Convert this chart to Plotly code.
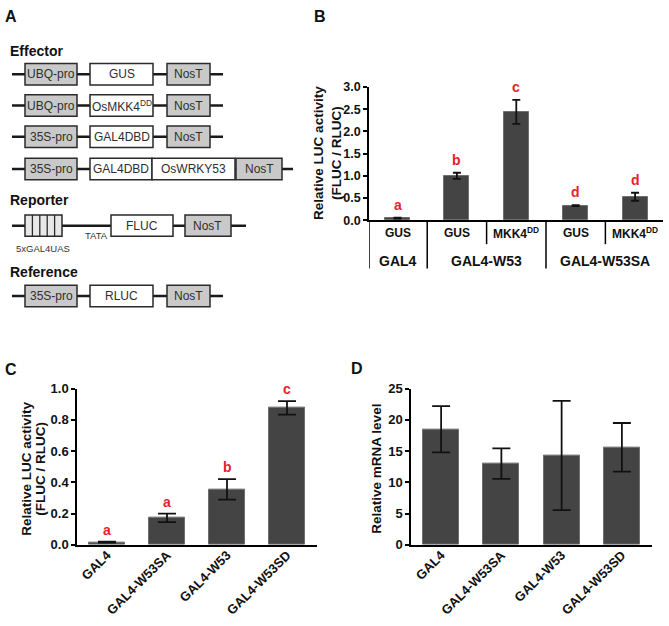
import plotly.graph_objects as go

W, H = 669, 626


def px(x):
    return x / W


def py(y):
    return 1 - y / H


FONT = "Arial, Liberation Sans, sans-serif"
BAR_COLOR = "#444444"
BAR_EDGE = "#6e6e6e"
RED = "#e3232b"

# ---------------- Panel B data ----------------
b_sub_labels = ["GUS", "GUS", "MKK4<sup>DD</sup>", "GUS", "MKK4<sup>DD</sup>"]
b_group_labels = ["GAL4", "GAL4-W53", "GAL4-W53SA"]
b_group_sizes = [1, 2, 2]
b_values = [0.05, 1.00, 2.44, 0.33, 0.53]
b_errors = [0.01, 0.07, 0.27, 0.01, 0.09]
b_letters = ["a", "b", "c", "d", "d"]
b_ticks = [0.0, 0.5, 1.0, 1.5, 2.0, 2.5, 3.0]

# ---------------- Panel C data ----------------
c_categories = ["GAL4", "GAL4-W53SA", "GAL4-W53", "GAL4-W53SD"]
c_values = [0.017, 0.172, 0.355, 0.877]
c_errors = [0.003, 0.027, 0.066, 0.043]
c_letters = ["a", "a", "b", "c"]
c_ticks = [0.0, 0.2, 0.4, 0.6, 0.8, 1.0]

# ---------------- Panel D data ----------------
d_categories = ["GAL4", "GAL4-W53SA", "GAL4-W53", "GAL4-W53SD"]
d_values = [18.5, 13.0, 14.3, 15.6]
d_errors = [3.7, 2.45, 8.75, 3.9]
d_ticks = [0, 5, 10, 15, 20, 25]

# ---------------- Panel A labels ----------------
effector_constructs = [
    ["UBQ-pro", "GUS", "NosT"],
    ["UBQ-pro", "OsMKK4<sup>DD</sup>", "NosT"],
    ["35S-pro", "GAL4DBD", "NosT"],
    ["35S-pro", "GAL4DBD", "OsWRKY53", "NosT"],
]
reporter_parts = ["5xGAL4UAS", "TATA", "FLUC", "NosT"]
reference_parts = ["35S-pro", "RLUC", "NosT"]

fig = go.Figure()

err_style = dict(type="data", visible=True, color="#111111", thickness=1.8)

fig.add_trace(go.Bar(
    x=list(range(len(b_values))), y=b_values,
    error_y=dict(array=b_errors, width=4, **err_style),
    width=0.42, marker=dict(color=BAR_COLOR, line=dict(color=BAR_EDGE, width=1)),
    xaxis="x", yaxis="y", showlegend=False, hoverinfo="skip"))

fig.add_trace(go.Bar(
    x=c_categories, y=c_values,
    error_y=dict(array=c_errors, width=9, **err_style),
    width=0.6, marker=dict(color=BAR_COLOR, line=dict(color=BAR_EDGE, width=1)),
    xaxis="x2", yaxis="y2", showlegend=False, hoverinfo="skip"))

fig.add_trace(go.Bar(
    x=d_categories, y=d_values,
    error_y=dict(array=d_errors, width=9, **err_style),
    width=0.6, marker=dict(color=BAR_COLOR, line=dict(color=BAR_EDGE, width=1)),
    xaxis="x3", yaxis="y3", showlegend=False, hoverinfo="skip"))

shapes = []
annotations = []


def text(x, y, s, size=11, bold=False, color="#222222", xanchor="center", yanchor="middle",
         xref="paper", yref="paper", angle=0):
    annotations.append(dict(
        x=px(x) if xref == "paper" else x, y=py(y) if yref == "paper" else y,
        xref=xref, yref=yref, text=s, showarrow=False, textangle=angle,
        xanchor=xanchor, yanchor=yanchor,
        font=dict(family=FONT, size=size, color=color, weight="bold" if bold else "normal")))


def hline(x0, x1, y, width=2.5, color="#1a1a1a"):
    shapes.append(dict(type="line", xref="paper", yref="paper",
                       x0=px(x0), x1=px(x1), y0=py(y), y1=py(y),
                       line=dict(color=color, width=width)))


def rect(x0, x1, yc, fill, h=22):
    shapes.append(dict(type="rect", xref="paper", yref="paper",
                       x0=px(x0), x1=px(x1), y0=py(yc + h / 2), y1=py(yc - h / 2),
                       fillcolor=fill, line=dict(color="#2a2a2a", width=1.5)))


def box(x0, x1, yc, fill, label):
    rect(x0, x1, yc, fill)
    text((x0 + x1) / 2, yc, label, size=12, color="#2e2e2e")


GRAY = "#c9c9c9"
WHITE = "#ffffff"

# ----- Panel A -----
text(3, 10, "A", size=16, bold=True, xanchor="left", color="#111")
text(8, 45, "Effector", size=14, bold=True, xanchor="left", color="#111")
eff_rows_y = [69, 101, 133, 166]
for yc, parts in zip(eff_rows_y, effector_constructs):
    if len(parts) == 3:
        hline(12, 223, yc)
        box(25, 77, yc, GRAY, parts[0])
        box(90, 153, yc, WHITE, parts[1])
        box(167, 210, yc, GRAY, parts[2])
    else:
        hline(12, 293, yc)
        box(25, 77, yc, GRAY, parts[0])
        box(90, 152, yc, WHITE, parts[1])
        box(152, 235, yc, WHITE, parts[2])
        box(236, 282, yc, GRAY, parts[3])

text(8, 198, "Reporter", size=14, bold=True, xanchor="left", color="#111")
ry = 224
hline(12, 246, ry)
rect(25, 62, ry, "#e8e8e8")
for k in range(1, 5):
    xx = 25 + k * (62 - 25) / 5
    shapes.append(dict(type="line", xref="paper", yref="paper", x0=px(xx), x1=px(xx),
                       y0=py(ry - 11), y1=py(ry + 11), line=dict(color="#2a2a2a", width=1.3)))
text(43, 247, reporter_parts[0], size=9.5, color="#333")
text(96, 234, reporter_parts[1], size=9.5, color="#333")
box(111, 173, ry, WHITE, reporter_parts[2])
box(185, 231, ry, GRAY, reporter_parts[3])

text(8, 272, "Reference", size=14, bold=True, xanchor="left", color="#111")
fy = 296
hline(12, 223, fy)
box(25, 77, fy, GRAY, reference_parts[0])
box(90, 153, fy, WHITE, reference_parts[1])
box(167, 210, fy, GRAY, reference_parts[2])

# ----- Panel B -----
text(312, 10, "B", size=16, bold=True, xanchor="left", color="#111")
text(318.5, 150, "Relative LUC activity", size=13.5, bold=True, angle=-90, color="#111")
text(336.5, 150, "(FLUC / RLUC)", size=13.5, bold=True, angle=-90, color="#111")

B_LEFT = -0.48
# table below panel B
shapes.append(dict(type="line", xref="x", yref="paper", x0=B_LEFT, x1=B_LEFT,
                   y0=py(218.5), y1=py(268), line=dict(color="black", width=1.5)))
start = 0
for gi, (gl, gs) in enumerate(zip(b_group_labels, b_group_sizes)):
    center = start + (gs - 1) / 2
    text(center, 260, gl, size=14, bold=True, color="#111", xref="x")
    end = start + gs - 1
    if gi < len(b_group_labels) - 1:
        shapes.append(dict(type="line", xref="x", yref="paper", x0=end + 0.5, x1=end + 0.5,
                           y0=py(218.5), y1=py(268), line=dict(color="black", width=1.5)))
    for k in range(start, end):
        shapes.append(dict(type="line", xref="x", yref="paper", x0=k + 0.5, x1=k + 0.5,
                           y0=py(218.5), y1=py(243), line=dict(color="black", width=1.5)))
    start += gs
for i, s in enumerate(b_sub_labels):
    text(i, 232, s, size=12, bold=True, color="#111", xref="x")

for i, (v, e, l) in enumerate(zip(b_values, b_errors, b_letters)):
    annotations.append(dict(x=i, y=v + e, xref="x", yref="y", text=l, showarrow=False,
                            yshift=13, yanchor="middle",
                            font=dict(family=FONT, size=14, color=RED, weight="bold")))

# ----- Panel C -----
text(3, 371, "C", size=16, bold=True, xanchor="left", color="#111")
text(27, 473, "Relative LUC activity", size=13.5, bold=True, angle=-90, color="#111")
text(41, 473, "(FLUC / RLUC)", size=13.5, bold=True, angle=-90, color="#111")
for cat, v, e, l in zip(c_categories, c_values, c_errors, c_letters):
    annotations.append(dict(x=cat, y=v + e, xref="x2", yref="y2", text=l, showarrow=False,
                            yshift=12, yanchor="middle",
                            font=dict(family=FONT, size=14, color=RED, weight="bold")))

# ----- Panel D -----
text(349, 370, "D", size=16, bold=True, xanchor="left", color="#111")
text(377, 473, "Relative mRNA level", size=13.5, bold=True, angle=-90, color="#111")

axis_common = dict(showgrid=False, zeroline=False, showline=True, linecolor="black", linewidth=1.5,
                   tickfont=dict(family=FONT, size=12.5, color="#111", weight="bold"))
yaxis_common = dict(axis_common, ticks="outside", ticklen=4, tickwidth=1.5, tickcolor="black")
cat_font = dict(family=FONT, size=13, color="#111", weight="bold")

fig.update_layout(
    width=W, height=H,
    margin=dict(l=0, r=0, t=0, b=0),
    paper_bgcolor="white", plot_bgcolor="rgba(0,0,0,0)",
    bargap=0,
    xaxis=dict(axis_common, domain=[px(369), px(663)], range=[B_LEFT, 4.47],
               showticklabels=False, ticks="", anchor="y"),
    yaxis=dict(yaxis_common, domain=[py(218.5), py(82)], range=[0, 3], tickvals=b_ticks,
               tickformat=".1f", anchor="x"),
    xaxis2=dict(axis_common, domain=[px(77), px(317)], range=[-0.5, 3.5], tickangle=-45,
                ticks="", anchor="y2", type="category", ticklabelstandoff=-4, tickfont=cat_font),
    yaxis2=dict(yaxis_common, domain=[py(551), py(391)], range=[0, 1], tickvals=c_ticks,
                tickformat=".1f", anchor="x2", tickfont=cat_font),
    xaxis3=dict(axis_common, domain=[px(411), px(652)], range=[-0.5, 3.5], tickangle=-45,
                ticks="", anchor="y3", type="category", ticklabelstandoff=-4, tickfont=cat_font),
    yaxis3=dict(yaxis_common, domain=[py(551), py(391)], range=[0, 25], tickvals=d_ticks,
                anchor="x3", tickfont=cat_font),
    shapes=shapes,
    annotations=annotations,
)

fig.write_html("out.html", config={"displayModeBar": False},
               post_script="document.body.style.margin='0';")
